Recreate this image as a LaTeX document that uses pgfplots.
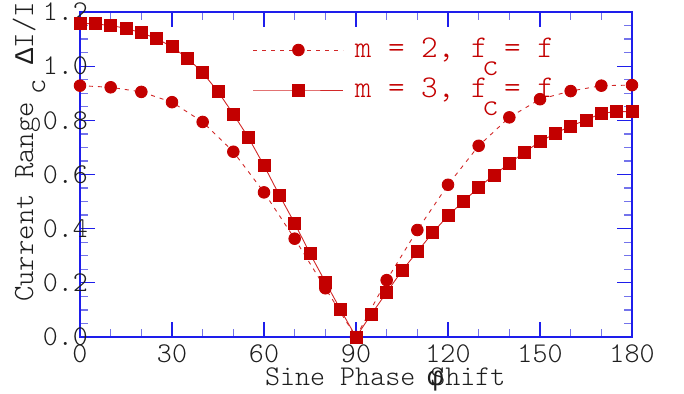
\documentclass[border=0pt]{standalone}
\usepackage{fontspec}
\setmainfont{Latin Modern Mono Light}
\newfontfamily\grk{Liberation Mono}
\usepackage{pgfplots}
\pgfplotsset{compat=1.18}
\definecolor{axblue}{RGB}{30,30,235}
\definecolor{minblue}{RGB}{115,115,235}
\definecolor{datred}{RGB}{195,0,0}
\definecolor{linered}{RGB}{210,40,40}
\definecolor{labgray}{RGB}{30,30,30}

\begin{document}
\begin{tikzpicture}
\begin{axis}[
  at={(0,0)}, anchor=south west,
  scale only axis, width=552pt, height=325pt,
  xmin=0, xmax=180, ymin=0, ymax=1.2,
  xtick={0,30,60,90,120,150,180}, minor x tick num=2,
  ytick={0,0.2,0.4,0.6,0.8,1.0,1.2}, minor y tick num=3,
  tick align=inside,
  major tick length=15pt, minor tick length=8pt,
  axis line style={axblue, line width=1.5pt},
  major tick style={axblue, line width=1.3pt},
  minor tick style={minblue, line width=1.3pt},
  tick label style={font=\fontsize{28.6}{30}\selectfont, text=labgray},
  /pgf/number format/assume math mode=true,
  yticklabel style={/pgf/number format/.cd, fixed, fixed zerofill, precision=1, /tikz/.cd,
    anchor=east, inner sep=0pt, xshift=8pt},
  xticklabel style={anchor=north, inner sep=0pt, yshift=-8pt},
  xlabel={Sine Phase \makebox[0pt][l]{\hspace{-3pt}{\grk\fontsize{27}{30}\selectfont φ}}Shift},
  every axis x label/.style={at={(axis description cs:0.3351,-0.1477)}, anchor=base west,
    inner sep=0pt, font=\fontsize{28.6}{30}\selectfont, text=labgray},
  ylabel={Current Range\hspace{7pt}\raisebox{-12pt}{c}\hspace{15pt}{\grk\fontsize{27}{30}\selectfont Δ}I/I},
  every axis y label/.style={at={(axis description cs:-0.0851,0.1077)}, rotate=90,
    anchor=base west, inner sep=0pt, font=\fontsize{29.3}{30}\selectfont, text=labgray},
  clip=false,
  legend cell align=left,
  legend style={draw=none, fill=none, inner sep=0pt, outer sep=0pt,
    at={(axis cs:56.41,1.0855)}, anchor=north west,
    font=\fontsize{31.6}{32}\selectfont, text=datred,
    row sep=26pt, column sep=11pt,
    nodes={inner sep=0pt, text height=14pt, text depth=0pt}},
  legend image code/.code={\draw[mark repeat=2,mark phase=2,#1] plot coordinates {(0pt,0pt) (45pt,0pt) (90pt,0pt)};},
]
\addplot[linered, line width=0.9pt, dash pattern=on 4pt off 5pt,
  mark=*, mark size=5.8pt, mark options={solid, fill=datred, draw=datred}]
  coordinates {
  (0,0.928) (10,0.922) (20,0.905) (30,0.867) (40,0.794) (50,0.684) (60,0.534)
  (70,0.363) (80,0.180) (90,0.0) (100,0.210) (110,0.395) (120,0.562)
  (130,0.706) (140,0.811) (150,0.878) (160,0.908) (170,0.928) (180,0.930)};
\addlegendentry{m = 2, f\makebox[0pt][l]{\hspace{-5.6pt}\raisebox{-18pt}{c}} = f}
\addplot[linered, line width=0.9pt,
  mark=square*, mark size=6pt, mark options={solid, fill=datred, draw=datred}]
  coordinates {
  (0,1.158) (5,1.156) (10,1.150) (15,1.140) (20,1.123) (25,1.102) (30,1.071)
  (35,1.030) (40,0.976) (45,0.906) (50,0.823) (55,0.735) (60,0.633) (65,0.524)
  (70,0.420) (75,0.308) (80,0.203) (85,0.100) (90,0.0) (95,0.084) (100,0.165)
  (105,0.245) (110,0.315) (115,0.385) (120,0.448) (125,0.500) (130,0.553)
  (135,0.598) (140,0.641) (145,0.683) (150,0.721) (155,0.752) (160,0.779)
  (165,0.801) (170,0.826) (175,0.832) (180,0.832)};
\addlegendentry{m = 3, f\makebox[0pt][l]{\hspace{-5.6pt}\raisebox{-18pt}{c}} = f}
\end{axis}
\pgfresetboundingbox
\path (-80pt,-56pt) rectangle (604pt,337pt);
\end{tikzpicture}
\end{document}
